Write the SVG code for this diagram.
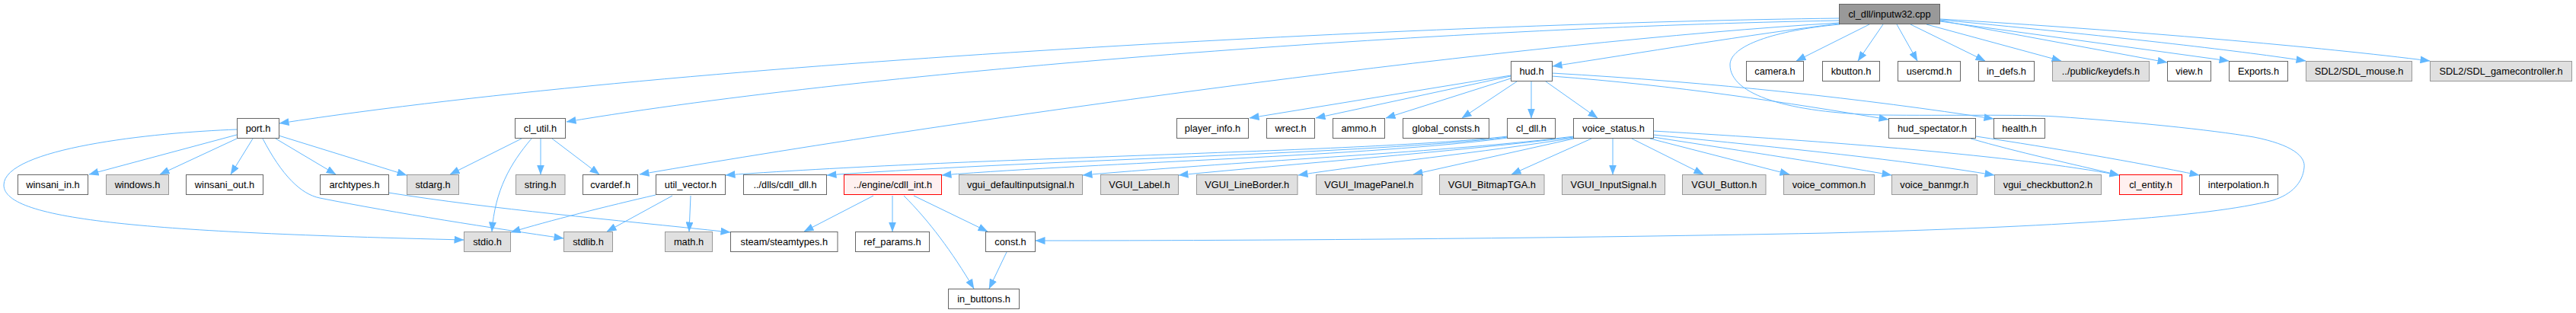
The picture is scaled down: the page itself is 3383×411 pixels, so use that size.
<svg xmlns="http://www.w3.org/2000/svg" width="3383" height="411" viewBox="0 0 3383 411">
<defs>
<marker id="ah" viewBox="0 0 13 10" refX="12.5" refY="5" markerWidth="13" markerHeight="10" markerUnits="userSpaceOnUse" orient="auto">
<path d="M0,0 L13,5 L0,10 z" fill="#63b8ff"/>
</marker>
<style>
.w{fill:#ffffff;stroke:#666666;stroke-width:1}
.g{fill:#e0e0e0;stroke:#999999;stroke-width:1}
.r{fill:#fff0f0;stroke:#ff0000;stroke-width:1}
.root{fill:#999999;stroke:#666666;stroke-width:1}
text{font-family:"Liberation Sans",Arial,Helvetica,sans-serif;font-size:12.8px;fill:#000000;text-anchor:middle}
#edges path{fill:none;stroke:#63b8ff;stroke-width:1;marker-end:url(#ah)}
</style>
</defs>
<rect x="0" y="0" width="3383" height="411" fill="#ffffff"/>
<g id="edges">
<!-- root edges -->
<path d="M2415,24 C1900,30 900,80 367,162"/>
<path d="M2415,27 C1900,36 1150,92 744,160"/>
<path d="M2415,30 C2000,55 1300,150 840,229"/>
<path d="M2415,31 C2300,45 2150,70 2039,87"/>
<path d="M2455,32 L2359,80"/>
<path d="M2473,32 L2440,80"/>
<path d="M2491,32 L2518,80"/>
<path d="M2509,32 L2607,80"/>
<path d="M2530,32 L2707,80"/>
<path d="M2548,27 L2846,82"/>
<path d="M2548,28 L2927,80"/>
<path d="M2548,26 C2800,50 2950,68 3028,80"/>
<path d="M2548,25 C2800,40 3050,62 3191,80"/>
<path d="M2416,32 C2330,40 2272,60 2272,85 C2272,125 2350,148 2470,151 C2560,152 2650,150 2700,153 C2800,160 2900,170 2960,180 C3010,190 3028,205 3026,220 C3024,240 3010,255 2985,263 C2900,285 2700,298 2400,306 C2000,314 1600,316 1360,316"/>
<!-- hud.h edges -->
<path d="M1984,99 L1641,155"/>
<path d="M1984,100 L1728,155"/>
<path d="M1984,103 L1820,155"/>
<path d="M1992,107 L1920,155"/>
<path d="M2011,107 L2011,155"/>
<path d="M2030,107 L2098,155"/>
<path d="M2038,96 C2250,108 2450,130 2618,156"/>
<path d="M2038,100 C2200,112 2350,135 2480,157"/>
<!-- cl_util.h edges -->
<path d="M685,182 L591,229"/>
<path d="M710,182 L710,229"/>
<path d="M725,182 L787,229"/>
<path d="M698,182 C670,215 650,250 646,304"/>
<!-- port.h edges -->
<path d="M311,177 L117,229"/>
<path d="M311,182 L210,229"/>
<path d="M332,182 L303,229"/>
<path d="M362,182 L441,229"/>
<path d="M366,178 L534,230"/>
<path d="M345,182 C370,230 395,255 420,260 C520,280 650,300 740,313"/>
<path d="M311,170 C200,174 5,195 5,243 C5,290 200,305 609,315"/>
<!-- archtypes.h -->
<path d="M510,253 C650,275 800,288 959,305"/>
<!-- util_vector.h -->
<path d="M861,256 C800,270 720,290 671,305"/>
<path d="M883,257 L797,304"/>
<path d="M907,257 L905,304"/>
<!-- cdll_int.h -->
<path d="M1147,257 L1056,304"/>
<path d="M1172,257 L1172,304"/>
<path d="M1187,257 C1220,290 1250,330 1279,379"/>
<path d="M1200,257 L1297,304"/>
<!-- const.h -->
<path d="M1322,331 L1299,379"/>
<!-- cl_dll.h -->
<path d="M1980,179 C1800,200 1300,205 953,230"/>
<path d="M1980,180 C1800,202 1400,208 1086,230"/>
<path d="M1980,181 C1800,205 1450,213 1237,230"/>
<!-- voice_status.h -->
<path d="M2067,179 C1900,200 1650,210 1422,230"/>
<path d="M2067,180 C1900,200 1700,215 1548,230"/>
<path d="M2067,181 C1950,200 1800,215 1705,230"/>
<path d="M2067,182 L1856,229"/>
<path d="M2090,182 L1985,229"/>
<path d="M2118,182 L2118,229"/>
<path d="M2143,182 L2237,229"/>
<path d="M2167,182 L2350,229"/>
<path d="M2171,180 C2300,200 2400,215 2484,230"/>
<path d="M2171,177 C2350,195 2500,210 2619,230"/>
<path d="M2171,172 C2400,185 2650,205 2783,230"/>
<!-- hud_spectator.h -->
<path d="M2588,182 C2650,200 2720,215 2783,230"/>
<path d="M2595,179 C2700,195 2800,212 2888,230"/>
</g>
<!-- nodes -->
<g id="node_root"><rect class="root" x="2415.5" y="5.5" width="132" height="26"/><text x="2481.5" y="23">cl_dll/inputw32.cpp</text></g>
<g id="node_hud"><rect class="w" x="1984.5" y="80.5" width="54" height="26"/><text x="2011.5" y="98">hud.h</text></g>
<g id="node_camera"><rect class="w" x="2293.5" y="80.5" width="75" height="26"/><text x="2331" y="98">camera.h</text></g>
<g id="node_kbutton"><rect class="w" x="2393.5" y="80.5" width="75" height="26"/><text x="2431" y="98">kbutton.h</text></g>
<g id="node_usercmd"><rect class="w" x="2492.5" y="80.5" width="82" height="26"/><text x="2533.5" y="98">usercmd.h</text></g>
<g id="node_in_defs"><rect class="w" x="2598.5" y="80.5" width="73" height="26"/><text x="2635" y="98">in_defs.h</text></g>
<g id="node_keydefs"><rect class="g" x="2695.5" y="80.5" width="127" height="26"/><text x="2759" y="98">../public/keydefs.h</text></g>
<g id="node_view"><rect class="w" x="2846.5" y="80.5" width="57" height="26"/><text x="2875" y="98">view.h</text></g>
<g id="node_exports"><rect class="w" x="2927.5" y="80.5" width="77" height="26"/><text x="2966" y="98">Exports.h</text></g>
<g id="node_sdl_mouse"><rect class="g" x="3028.5" y="80.5" width="139" height="26"/><text x="3098" y="98">SDL2/SDL_mouse.h</text></g>
<g id="node_sdl_gc"><rect class="g" x="3191.5" y="80.5" width="186" height="26"/><text x="3284.5" y="98">SDL2/SDL_gamecontroller.h</text></g>

<g id="node_port"><rect class="w" x="311.5" y="155.5" width="55" height="26"/><text x="339" y="173">port.h</text></g>
<g id="node_cl_util"><rect class="w" x="676.5" y="155.5" width="66" height="26"/><text x="709.5" y="173">cl_util.h</text></g>
<g id="node_player_info"><rect class="w" x="1545.5" y="155.5" width="94" height="26"/><text x="1592.5" y="173">player_info.h</text></g>
<g id="node_wrect"><rect class="w" x="1663.5" y="155.5" width="63" height="26"/><text x="1695" y="173">wrect.h</text></g>
<g id="node_ammo"><rect class="w" x="1750.5" y="155.5" width="68" height="26"/><text x="1784.5" y="173">ammo.h</text></g>
<g id="node_global_consts"><rect class="w" x="1842.5" y="155.5" width="113" height="26"/><text x="1899" y="173">global_consts.h</text></g>
<g id="node_cl_dll"><rect class="w" x="1979.5" y="155.5" width="63" height="26"/><text x="2011" y="173">cl_dll.h</text></g>
<g id="node_voice_status"><rect class="w" x="2066.5" y="155.5" width="105" height="26"/><text x="2119" y="173">voice_status.h</text></g>
<g id="node_hud_spectator"><rect class="w" x="2480.5" y="155.5" width="114" height="26"/><text x="2537.5" y="173">hud_spectator.h</text></g>
<g id="node_health"><rect class="w" x="2618.5" y="155.5" width="67" height="26"/><text x="2652" y="173">health.h</text></g>

<g id="node_winsani_in"><rect class="w" x="23.5" y="229.5" width="92" height="26"/><text x="69.5" y="247">winsani_in.h</text></g>
<g id="node_windows"><rect class="g" x="139.5" y="229.5" width="82" height="26"/><text x="180.5" y="247">windows.h</text></g>
<g id="node_winsani_out"><rect class="w" x="244.5" y="229.5" width="101" height="26"/><text x="295" y="247">winsani_out.h</text></g>
<g id="node_archtypes"><rect class="w" x="420.5" y="229.5" width="90" height="26"/><text x="465.5" y="247">archtypes.h</text></g>
<g id="node_stdarg"><rect class="g" x="534.5" y="229.5" width="68" height="26"/><text x="568.5" y="247">stdarg.h</text></g>
<g id="node_string"><rect class="g" x="677.5" y="229.5" width="64.5" height="26"/><text x="709.75" y="247">string.h</text></g>
<g id="node_cvardef"><rect class="w" x="765.5" y="229.5" width="72" height="26"/><text x="801.5" y="247">cvardef.h</text></g>
<g id="node_util_vector"><rect class="w" x="861.5" y="229.5" width="91" height="26"/><text x="907" y="247">util_vector.h</text></g>
<g id="node_cdll_dll"><rect class="w" x="976.5" y="229.5" width="109" height="26"/><text x="1031" y="247">../dlls/cdll_dll.h</text></g>
<g id="node_cdll_int"><rect class="r" x="1108.5" y="229.5" width="128" height="26"/><text x="1172.5" y="247">../engine/cdll_int.h</text></g>
<g id="node_vgui_dis"><rect class="g" x="1259.5" y="229.5" width="162" height="26"/><text x="1340.5" y="247">vgui_defaultinputsignal.h</text></g>
<g id="node_vgui_label"><rect class="g" x="1445.5" y="229.5" width="102" height="26"/><text x="1496.5" y="247">VGUI_Label.h</text></g>
<g id="node_vgui_lineborder"><rect class="g" x="1571.5" y="229.5" width="132.5" height="26"/><text x="1637.75" y="247">VGUI_LineBorder.h</text></g>
<g id="node_vgui_imagepanel"><rect class="g" x="1728.5" y="229.5" width="139" height="26"/><text x="1798" y="247">VGUI_ImagePanel.h</text></g>
<g id="node_vgui_bitmaptga"><rect class="g" x="1890.5" y="229.5" width="137.5" height="26"/><text x="1959.25" y="247">VGUI_BitmapTGA.h</text></g>
<g id="node_vgui_inputsignal"><rect class="g" x="2051.5" y="229.5" width="135" height="26"/><text x="2119" y="247">VGUI_InputSignal.h</text></g>
<g id="node_vgui_button"><rect class="g" x="2209.5" y="229.5" width="109.5" height="26"/><text x="2264.25" y="247">VGUI_Button.h</text></g>
<g id="node_voice_common"><rect class="g" x="2342.5" y="229.5" width="119" height="26"/><text x="2402" y="247">voice_common.h</text></g>
<g id="node_voice_banmgr"><rect class="g" x="2484.5" y="229.5" width="112" height="26"/><text x="2540.5" y="247">voice_banmgr.h</text></g>
<g id="node_vgui_checkbutton2"><rect class="g" x="2619.5" y="229.5" width="140" height="26"/><text x="2689.5" y="247">vgui_checkbutton2.h</text></g>
<g id="node_cl_entity"><rect class="r" x="2783.5" y="229.5" width="82" height="26"/><text x="2824.5" y="247">cl_entity.h</text></g>
<g id="node_interpolation"><rect class="w" x="2888.5" y="229.5" width="103" height="26"/><text x="2940" y="247">interpolation.h</text></g>

<g id="node_stdio"><rect class="g" x="609.5" y="304.5" width="61" height="26"/><text x="640" y="322">stdio.h</text></g>
<g id="node_stdlib"><rect class="g" x="740.5" y="304.5" width="64" height="26"/><text x="772.5" y="322">stdlib.h</text></g>
<g id="node_math"><rect class="g" x="873.5" y="304.5" width="62" height="26"/><text x="904.5" y="322">math.h</text></g>
<g id="node_steamtypes"><rect class="w" x="959.5" y="304.5" width="140.5" height="26"/><text x="1029.75" y="322">steam/steamtypes.h</text></g>
<g id="node_ref_params"><rect class="w" x="1123.5" y="304.5" width="97" height="26"/><text x="1172" y="322">ref_params.h</text></g>
<g id="node_const"><rect class="w" x="1294.5" y="304.5" width="65" height="26"/><text x="1327" y="322">const.h</text></g>

<g id="node_in_buttons"><rect class="w" x="1245.5" y="379.5" width="93" height="26"/><text x="1292" y="397">in_buttons.h</text></g>
</svg>
